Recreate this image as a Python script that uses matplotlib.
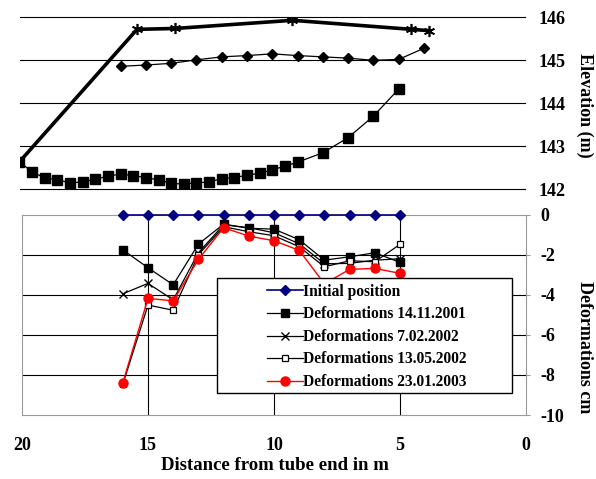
import matplotlib
matplotlib.use("Agg")
import matplotlib.pyplot as plt
from matplotlib.patches import Rectangle

plt.rcParams["font.family"] = "Liberation Serif"
plt.rcParams["font.weight"] = "bold"
plt.rcParams["axes.unicode_minus"] = False

# --- top panel: elevations (m) ---
x_upper = [20, 15.35, 13.85, 9.2, 4.5, 3.8]
elev_upper = [142.64, 145.72, 145.74, 145.93, 145.72, 145.69]

x_middle = [16, 15, 14, 13, 12, 11, 10, 9, 8, 7, 6, 5, 4]
elev_middle = [144.86, 144.89, 144.93, 145.01, 145.08, 145.11, 145.15,
               145.11, 145.08, 145.05, 145.0, 145.02, 145.28]

x_tube = [20, 19.5, 19, 18.5, 18, 17.5, 17, 16.5, 16, 15.5, 15, 14.5,
          14, 13.5, 13, 12.5, 12, 11.5, 11, 10.5, 10, 9.5, 9, 8, 7, 6, 5]
elev_tube = [142.64, 142.40, 142.27, 142.22, 142.15, 142.17, 142.23, 142.31,
             142.35, 142.32, 142.27, 142.22, 142.14, 142.12, 142.15, 142.17,
             142.25, 142.27, 142.33, 142.37, 142.45, 142.54, 142.63, 142.85,
             143.20, 143.70, 144.33]
elev_ticks = [142, 143, 144, 145, 146]

# --- bottom panel: deformations (cm) ---
x_def = [16, 15, 14, 13, 12, 11, 10, 9, 8, 7, 6, 5]
initial = [0, 0, 0, 0, 0, 0, 0, 0, 0, 0, 0, 0]
def_20011114 = [-1.75, -2.65, -3.5, -1.47, -0.47, -0.68, -0.72, -1.25, -2.27, -2.1, -1.9, -2.38]
def_20020207 = [-3.95, -3.43, -4.25, -1.9, -0.5, -0.65, -0.9, -1.45, -2.45, -2.43, -2.27, -2.2]
def_20020513 = [-8.47, -4.51, -4.77, -2.0, -0.6, -0.85, -1.05, -1.6, -2.6, -2.3, -2.35, -1.48]
def_20030123 = [-8.4, -4.18, -4.3, -2.23, -0.65, -1.07, -1.3, -1.78, -3.45, -2.73, -2.68, -2.93]
def_ticks = [0, -2, -4, -6, -8, -10]
dist_ticks = [20, 15, 10, 5, 0]

W, H = 596, 479
fig = plt.figure(figsize=(W / 100, H / 100), dpi=100)

# top axes
ax1 = fig.add_axes([19.5 / W, 1 - 189.3 / H, 505.5 / W, 172 / H])
for v in elev_ticks:
    ax1.axhline(v, color="black", lw=0.8, clip_on=False, zorder=1)
ax1.plot(x_upper, elev_upper, color="black", lw=2.6, marker=(6, 2, 0),
         ms=8, mew=1.2, zorder=3)
ax1.plot(x_middle, elev_middle, color="black", lw=0.9, marker="D",
         ms=5, zorder=3)
ax1.plot(x_tube, elev_tube, color="black", lw=0.9, marker="s",
         ms=7.5, zorder=3)
ax1.set_xlim(20, 0)
ax1.set_ylim(142, 146)
for s in ax1.spines.values():
    s.set_visible(False)
ax1.set_xticks([])
ax1.yaxis.tick_right()
ax1.set_yticks(elev_ticks)
ax1.tick_params(axis="y", length=0, pad=10, labelsize=13)

# bottom axes
ax2 = fig.add_axes([22 / W, 1 - 415 / H, 504 / W, 200.3 / H])
for v in def_ticks[1:-1]:
    ax2.axhline(v, color="black", lw=0.8, zorder=1)
for v in dist_ticks[1:-1]:
    ax2.axvline(v, color="black", lw=0.8, zorder=1)
ax2.plot(x_def, initial, color="#000080", lw=1.2, marker="D", ms=5,
         label="Initial position", zorder=3, clip_on=False)
ax2.plot(x_def, def_20011114, color="black", lw=0.9, marker="s", ms=6,
         label="Deformations 14.11.2001", zorder=3)
ax2.plot(x_def, def_20020207, color="black", lw=0.9, marker="x", ms=6,
         mew=1.0, label="Deformations 7.02.2002", zorder=3)
ax2.plot(x_def, def_20020513, color="black", lw=0.9, marker="s", ms=5,
         mfc="white", mew=0.9, label="Deformations 13.05.2002", zorder=3)
ax2.plot(x_def, def_20030123, color="red", lw=1.0, marker="o", ms=6.5,
         label="Deformations 23.01.2003", zorder=3)
ax2.set_xlim(20, 0)
ax2.set_ylim(-10, 0)
for s in ax2.spines.values():
    s.set_color("#999999")
ax2.yaxis.tick_right()
ax2.set_yticks(def_ticks)
ax2.tick_params(axis="y", length=3, color="#999999", pad=7, labelsize=13)
ax2.set_xticks(dist_ticks)
ax2.tick_params(axis="x", length=0, pad=16, labelsize=13)

# legend box as in the original (wide blank margin on the left)
ax2.add_patch(Rectangle((217 / W, 1 - 393 / H), 295 / W, 115 / H,
                        transform=fig.transFigure, facecolor="white",
                        edgecolor="black", lw=1.0, zorder=5, clip_on=False))
leg = ax2.legend(loc="upper left", bbox_to_anchor=(256 / W, 1 - 273 / H),
                 bbox_transform=fig.transFigure, frameon=False,
                 fontsize=11.2, handlelength=2.3, handletextpad=0.05,
                 labelspacing=0.42, borderpad=0.2)
leg.set_zorder(6)

fig.text(585 / W, 1 - 105 / H, "Elevation (m)", rotation=270, ha="center",
         va="center", fontsize=13)
fig.text(585 / W, 1 - 347 / H, "Deformations cm", rotation=270, ha="center",
         va="center", fontsize=13)
fig.text(275 / W, 1 - 466 / H, "Distance from tube end in m", ha="center",
         va="center", fontsize=13.5)

fig.savefig("out.png", dpi=100)
